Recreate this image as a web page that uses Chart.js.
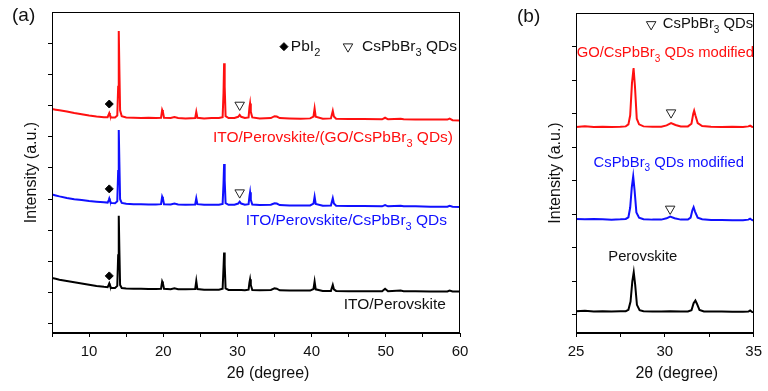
<!DOCTYPE html>
<html><head><meta charset="utf-8">
<script src="https://cdn.jsdelivr.net/npm/chart.js@4.4.0/dist/chart.umd.min.js"></script>
<style>
html,body{margin:0;padding:0;background:#fff;width:768px;height:391px;overflow:hidden}
#wa{position:absolute;left:0;top:0;width:480px;height:391px}
#wb{position:absolute;left:480px;top:0;width:288px;height:391px}
</style></head><body>
<div id="wa"><canvas id="ca"></canvas></div>
<div id="wb"><canvas id="cb"></canvas></div>
<script>
// ===== Panel (a): 2θ (degree) vs intensity (a.u., stacked) =====
const aRed = [[5,6.89],[5.5,6.87],[6,6.85],[7,6.81],[8,6.76],[9,6.72],[10,6.68],[11,6.65],[12,6.63],[12.5,6.63],[12.65,6.72],[12.72,6.76],[12.8,6.70],[12.95,6.62],[13.5,6.62],[13.8,6.68],[13.92,7.6],[14.0,9.39],[14.08,8.2],[14.18,6.85],[14.4,6.66],[15,6.62],[16,6.61],[17,6.60],[18,6.61],[19,6.60],[19.7,6.61],[19.85,6.86],[19.95,6.80],[20.1,6.61],[21,6.60],[21.5,6.63],[22,6.60],[23,6.59],[24.3,6.60],[24.45,6.80],[24.6,6.61],[25.5,6.59],[26.5,6.60],[27.5,6.60],[28.0,6.63],[28.12,7.4],[28.2,8.36],[28.28,7.6],[28.4,6.66],[28.8,6.60],[29.6,6.60],[30.1,6.64],[30.3,6.70],[30.5,6.64],[31.0,6.60],[31.5,6.62],[31.62,6.95],[31.7,7.07],[31.8,6.8],[32.0,6.62],[33,6.59],[34.5,6.60],[35.0,6.66],[35.3,6.65],[35.7,6.60],[37,6.59],[38.5,6.58],[39.8,6.59],[40.25,6.65],[40.4,6.91],[40.55,6.64],[41.5,6.58],[42.6,6.59],[42.85,6.83],[43.0,6.65],[43.3,6.58],[45,6.57],[47,6.57],[49.5,6.56],[49.9,6.61],[50.3,6.56],[52.0,6.58],[52.4,6.56],[54,6.55],[56,6.55],[58.3,6.55],[58.6,6.58],[59,6.53],[60,6.52]];
const aBlue = [[5,4.15],[5.5,4.12],[6,4.09],[7,4.04],[8,4.00],[9,3.97],[10,3.94],[11,3.92],[12,3.90],[12.5,3.89],[12.65,3.97],[12.72,4.02],[12.8,3.96],[12.95,3.88],[13.5,3.87],[13.8,3.93],[13.92,4.9],[14.0,6.22],[14.08,5.2],[14.18,4.0],[14.4,3.88],[15,3.85],[16,3.84],[17,3.84],[18,3.83],[19,3.83],[19.7,3.84],[19.85,4.08],[19.95,4.02],[20.1,3.84],[21,3.83],[21.5,3.86],[22,3.83],[23,3.82],[24.3,3.83],[24.45,4.03],[24.6,3.84],[25.5,3.82],[26.5,3.82],[27.5,3.82],[28.0,3.85],[28.12,4.5],[28.2,5.13],[28.28,4.6],[28.4,3.87],[28.8,3.82],[29.6,3.82],[30.1,3.86],[30.3,3.92],[30.5,3.86],[31.0,3.82],[31.5,3.84],[31.62,4.1],[31.7,4.22],[31.8,3.98],[32.0,3.83],[33,3.81],[34.5,3.82],[35.0,3.87],[35.3,3.86],[35.7,3.81],[37,3.80],[38.5,3.80],[39.8,3.80],[40.25,3.86],[40.4,4.08],[40.55,3.85],[41.5,3.79],[42.6,3.80],[42.85,4.03],[43.0,3.86],[43.3,3.79],[45,3.78],[47,3.78],[49.5,3.77],[49.9,3.81],[50.3,3.77],[52.0,3.79],[52.4,3.77],[54,3.77],[56,3.76],[58.3,3.76],[58.6,3.79],[59,3.76],[60,3.75]];
const aBlack = [[5,1.47],[5.5,1.45],[6,1.42],[7,1.38],[8,1.34],[9,1.30],[10,1.26],[11,1.22],[12,1.19],[12.5,1.18],[12.65,1.26],[12.72,1.30],[12.8,1.24],[12.95,1.16],[13.5,1.15],[13.8,1.22],[13.92,2.2],[14.0,3.47],[14.08,2.4],[14.18,1.25],[14.4,1.15],[15,1.14],[16,1.13],[17,1.13],[18,1.12],[19,1.12],[19.7,1.13],[19.85,1.36],[19.95,1.30],[20.1,1.13],[21,1.11],[21.5,1.14],[22,1.11],[23,1.11],[24.3,1.12],[24.45,1.38],[24.6,1.12],[25.5,1.10],[26.5,1.10],[27.5,1.10],[28.0,1.13],[28.12,1.8],[28.2,2.29],[28.28,1.9],[28.4,1.14],[28.8,1.09],[29.6,1.09],[30.5,1.09],[31.0,1.08],[31.5,1.10],[31.62,1.33],[31.7,1.43],[31.8,1.25],[32.0,1.09],[33,1.08],[34.5,1.09],[35.0,1.14],[35.3,1.13],[35.7,1.08],[37,1.07],[38.5,1.07],[39.8,1.07],[40.25,1.12],[40.4,1.36],[40.55,1.11],[41.5,1.06],[42.6,1.06],[42.85,1.25],[43.0,1.11],[43.3,1.06],[45,1.05],[47,1.05],[49.5,1.05],[49.9,1.13],[50.3,1.05],[52.0,1.07],[52.4,1.05],[54,1.05],[56,1.04],[58.3,1.04],[58.6,1.07],[59,1.04],[60,1.04]];
const aPbI2Marks = [[12.72,7.05],[12.72,4.33],[12.72,1.54]];
const aQDMarks = [[30.3,7.02],[30.3,4.21]];
const aXTicks = [5,10,15,20,25,30,35,40,45,50,55,60];
const aYTicks = [0,1,2,3,4,5,6,7,8,9];

// ===== Panel (b): zoom 25–35° =====
const bRed = [[25.0,5.60],[25.5,5.62],[26.0,5.60],[26.5,5.61],[27.0,5.60],[27.5,5.61],[27.8,5.62],[27.95,5.68],[28.05,5.95],[28.15,6.9],[28.24,7.36],[28.32,6.8],[28.42,5.85],[28.55,5.68],[28.8,5.62],[29.3,5.61],[29.8,5.61],[30.1,5.65],[30.35,5.72],[30.6,5.66],[30.9,5.62],[31.3,5.62],[31.5,5.70],[31.6,6.0],[31.65,6.09],[31.72,5.95],[31.85,5.72],[32.1,5.63],[32.6,5.61],[33.2,5.60],[33.8,5.61],[34.4,5.60],[34.7,5.62],[34.8,5.64],[34.9,5.61],[35.0,5.60]];
const bBlue = [[25.0,2.86],[25.5,2.85],[26.0,2.86],[26.5,2.85],[27.0,2.84],[27.5,2.85],[27.8,2.86],[27.95,2.91],[28.05,3.2],[28.14,3.8],[28.22,4.13],[28.3,3.7],[28.4,3.05],[28.55,2.90],[28.8,2.85],[29.3,2.84],[29.8,2.84],[30.1,2.88],[30.3,2.93],[30.55,2.88],[30.9,2.84],[31.3,2.84],[31.45,2.90],[31.55,3.12],[31.62,3.21],[31.7,3.08],[31.85,2.90],[32.1,2.85],[32.6,2.83],[33.2,2.83],[33.8,2.82],[34.4,2.82],[34.7,2.84],[34.8,2.87],[34.9,2.83],[35.0,2.81]];
const bBlack = [[25.0,0.11],[25.5,0.12],[26.0,0.10],[26.5,0.11],[27.0,0.10],[27.5,0.11],[27.8,0.11],[27.95,0.15],[28.07,0.4],[28.17,1.0],[28.25,1.27],[28.33,0.9],[28.43,0.3],[28.58,0.14],[28.8,0.11],[29.3,0.10],[29.8,0.10],[30.3,0.11],[30.9,0.10],[31.3,0.10],[31.5,0.14],[31.62,0.35],[31.72,0.43],[31.8,0.34],[31.95,0.15],[32.2,0.10],[32.6,0.10],[33.2,0.10],[33.8,0.09],[34.4,0.09],[34.7,0.10],[34.8,0.13],[34.9,0.09],[35.0,0.08]];
const bQDMarks = [[30.35,6.03],[30.3,3.16]];
const bXTicks = [25,27.5,30,32.5,35];
const bYTicks = [0,1,2,3,4,5,6,7,8];

const RED = '#ff1010', BLUE = '#1010ff', BLACK = '#000000';
const FONT = "'Liberation Sans', Arial, sans-serif";

// Text annotations (data coordinates)
const aNotes = [
  {x:59.06, y:5.96, text:'ITO/Perovskite/(GO/CsPbBr{3} QDs)', color:RED, align:'right'},
  {x:58.25, y:3.30, text:'ITO/Perovskite/CsPbBr{3} QDs', color:BLUE, align:'right'},
  {x:58.1, y:0.61, text:'ITO/Perovskite', color:'#111', align:'right'},
  {x:37.2, y:8.89, text:'PbI{2}', color:'#111', align:'left'},
  {x:46.8, y:8.89, text:'CsPbBr{3} QDs', color:'#111', align:'left'}
];
const aLegendSyms = [{x:36.27, y:8.89, style:'rectRot'},{x:44.9, y:8.89, style:'triangle'}];
const bNotes = [
  {x:29.89, y:8.66, text:'CsPbBr{3} QDs', color:'#111', align:'left'},
  {x:30.03, y:7.81, text:'GO/CsPbBr{3} QDs modified', color:RED, align:'center'},
  {x:30.22, y:4.54, text:'CsPbBr{3} QDs modified', color:BLUE, align:'center'},
  {x:28.76, y:1.73, text:'Perovskite', color:'#111', align:'center'}
];
const bLegendSyms = [{x:29.23, y:8.66, style:'triangle'}];

function parseRich(s){
  const parts=[]; const re=/([^{]+)|\{([^}]*)\}/g; let m;
  while((m=re.exec(s))){ if(m[1]) parts.push({t:m[1],sub:false}); else parts.push({t:m[2],sub:true}); }
  return parts;
}
function drawRich(ctx, s, x, y, align, color, size){
  const parts=parseRich(s);
  const subSize=Math.round(size*0.68);
  let w=0;
  parts.forEach(p=>{ctx.font=(p.sub?subSize:size)+'px '+FONT; p.w=ctx.measureText(p.t).width; w+=p.w;});
  let cx = align==='right'? x-w : align==='center'? x-w/2 : x;
  ctx.fillStyle=color; ctx.textBaseline='middle'; ctx.textAlign='left';
  parts.forEach(p=>{ctx.font=(p.sub?subSize:size)+'px '+FONT; ctx.fillText(p.t,cx,p.sub?y+size*0.4:y); cx+=p.w;});
}
function drawSym(ctx, sym, px, py){
  ctx.save();
  if(sym.style==='rectRot'){
    ctx.fillStyle='#000'; ctx.strokeStyle='#000'; ctx.lineWidth=1;
    Chart.helpers.drawPoint(ctx,{pointStyle:'rectRot',radius:4,rotation:0,borderWidth:1},px,py);
  } else {
    ctx.fillStyle='rgba(0,0,0,0)'; ctx.strokeStyle='#222'; ctx.lineWidth=1;
    Chart.helpers.drawPoint(ctx,{pointStyle:'triangle',radius:5.5,rotation:180,borderWidth:1},px,py);
  }
  ctx.restore();
}

function makeTextPlugin(notes, syms, panelLabel, plOffset, noteSize){
  return {
    id:'texts',
    afterDraw(chart){
      const ctx=chart.ctx, xs=chart.scales.x, ys=chart.scales.y, ca=chart.chartArea;
      ctx.save();
      // frame
      ctx.strokeStyle='#000'; ctx.lineWidth=1;
      ctx.strokeRect(Math.round(ca.left)+0.5, Math.round(ca.top)+0.5, Math.round(ca.right-ca.left)-1, Math.round(ca.bottom-ca.top)-1);
      notes.forEach(n=>drawRich(ctx,n.text,xs.getPixelForValue(n.x),ys.getPixelForValue(n.y),n.align,n.color,noteSize));
      syms.forEach(s=>drawSym(ctx,s,xs.getPixelForValue(s.x),ys.getPixelForValue(s.y)));
      // panel label
      drawRich(ctx,panelLabel,ca.left+plOffset,ca.top+4,'left','#111',19);
      // axis titles
      ctx.fillStyle='#111'; ctx.font='16px '+FONT; ctx.textAlign='center'; ctx.textBaseline='middle';
      ctx.fillText('2\u03b8 (degree)', (ca.left+ca.right)/2+12, ca.bottom+41);
      ctx.save(); ctx.translate(ca.left-20,(ca.top+ca.bottom)/2); ctx.rotate(-Math.PI/2);
      ctx.fillText('Intensity (a.u.)',0,0); ctx.restore();
      ctx.restore();
    }
  };
}

function lineDs(arr,color){
  return {type:'line',data:arr.map(p=>({x:p[0],y:p[1]})),borderColor:color,borderWidth:2,pointRadius:0,tension:0,fill:false};
}
function markDs(arr,style){
  return {type:'scatter',data:arr.map(p=>({x:p[0],y:p[1]})),pointStyle:style,
    pointRadius:style==='rectRot'?4:5.5,rotation:style==='triangle'?180:0,
    backgroundColor:style==='rectRot'?'#000':'rgba(0,0,0,0)',borderColor:style==='rectRot'?'#000':'#222',borderWidth:1,showLine:false};
}
function axisCfg(min,max,ticks,labelFn,size,isX,displayLabels){
  return {
    type:'linear',min:min,max:max,
    afterBuildTicks:s=>{s.ticks=ticks.map(v=>({value:v}));},
    ticks:{display:displayLabels,autoSkip:false,maxRotation:0,callback:labelFn,color:'#111',font:{family:FONT,size:15},padding:6},
    grid:{display:true,drawOnChartArea:false,drawTicks:true,tickLength:4,color:'#000',lineWidth:1},
    border:{display:true,color:'#000',width:1},
    afterFit:s=>{ if(isX) s.height=size; else s.width=size; }
  };
}

new Chart(document.getElementById('ca'),{
  data:{datasets:[lineDs(aRed,RED),lineDs(aBlue,BLUE),lineDs(aBlack,BLACK),markDs(aPbI2Marks,'rectRot'),markDs(aQDMarks,'triangle')]},
  options:{
    responsive:true,maintainAspectRatio:false,animation:false,devicePixelRatio:1,
    layout:{padding:{left:20,top:12,right:20,bottom:5}},
    plugins:{legend:{display:false},tooltip:{enabled:false}},
    scales:{
      x:axisCfg(5,60,aXTicks,v=>(v%10===0?String(v):''),53,true,true),
      y:axisCfg(-0.29,10,aYTicks,()=> '',32,false,false)
    }
  },
  plugins:[makeTextPlugin(aNotes,aLegendSyms,'(a)',-40,15.5)]
});

new Chart(document.getElementById('cb'),{
  data:{datasets:[lineDs(bRed,RED),lineDs(bBlue,BLUE),lineDs(bBlack,BLACK),markDs(bQDMarks,'triangle')]},
  options:{
    responsive:true,maintainAspectRatio:false,animation:false,devicePixelRatio:1,
    layout:{padding:{left:60,top:13,right:10,bottom:5}},
    plugins:{legend:{display:false},tooltip:{enabled:false}},
    scales:{
      x:axisCfg(25,35,bXTicks,v=>(v%5===0?String(v):''),53,true,true),
      y:axisCfg(-0.54,9,bYTicks,()=> '',36,false,false)
    }
  },
  plugins:[makeTextPlugin(bNotes,bLegendSyms,'(b)',-59,14.8)]
});
</script>
</body></html>
